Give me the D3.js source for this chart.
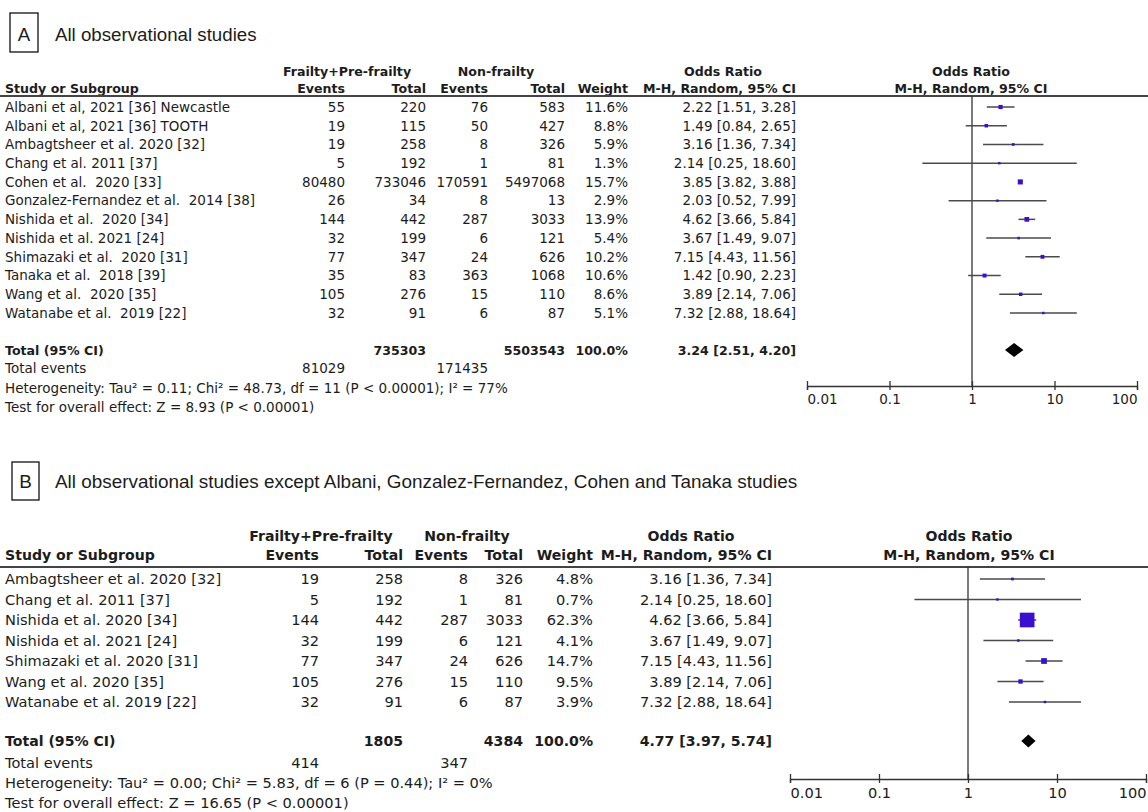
<!DOCTYPE html>
<html><head><meta charset="utf-8">
<script src="https://cdn.jsdelivr.net/npm/d3@7"></script>
<style>
body{margin:0;background:#fff;}
svg text{font-family:"DejaVu Sans",sans-serif;fill:#1c1c1c;white-space:pre;}
</style></head><body>
<svg id="c" width="1148" height="812"></svg>
<script>
// ---------- Panel A data ----------
const studiesA = ["Albani et al, 2021 [36] Newcastle","Albani et al, 2021 [36] TOOTH","Ambagtsheer et al. 2020 [32]","Chang et al. 2011 [37]","Cohen et al.  2020 [33]","Gonzalez-Fernandez et al.  2014 [38]","Nishida et al.  2020 [34]","Nishida et al. 2021 [24]","Shimazaki et al.  2020 [31]","Tanaka et al.  2018 [39]","Wang et al.  2020 [35]","Watanabe et al.  2019 [22]"];
const eventsFrailA = [55,19,19,5,80480,26,144,32,77,35,105,32];
const totalFrailA = [220,115,258,192,733046,34,442,199,347,83,276,91];
const eventsNonA = [76,50,8,1,170591,8,287,6,24,363,15,6];
const totalNonA = [583,427,326,81,5497068,13,3033,121,626,1068,110,87];
const weightA = [11.6,8.8,5.9,1.3,15.7,2.9,13.9,5.4,10.2,10.6,8.6,5.1];
const orA = [2.22,1.49,3.16,2.14,3.85,2.03,4.62,3.67,7.15,1.42,3.89,7.32];
const lowA = [1.51,0.84,1.36,0.25,3.82,0.52,3.66,1.49,4.43,0.90,2.14,2.88];
const highA = [3.28,2.65,7.34,18.60,3.88,7.99,5.84,9.07,11.56,2.23,7.06,18.64];
const totalA = {totFrail:"735303", totNon:"5503543", weight:"100.0%", or:3.24, low:2.51, high:4.20, evFrail:"81029", evNon:"171435"};
const hetA = "Heterogeneity: Tau² = 0.11; Chi² = 48.73, df = 11 (P < 0.00001); I² = 77%";
const testA = "Test for overall effect: Z = 8.93 (P < 0.00001)";
const titleA = "All observational studies";

// ---------- Panel B data ----------
const studiesB = ["Ambagtsheer et al. 2020 [32]","Chang et al. 2011 [37]","Nishida et al. 2020 [34]","Nishida et al. 2021 [24]","Shimazaki et al. 2020 [31]","Wang et al. 2020 [35]","Watanabe et al. 2019 [22]"];
const eventsFrailB = [19,5,144,32,77,105,32];
const totalFrailB = [258,192,442,199,347,276,91];
const eventsNonB = [8,1,287,6,24,15,6];
const totalNonB = [326,81,3033,121,626,110,87];
const weightB = [4.8,0.7,62.3,4.1,14.7,9.5,3.9];
const orB = [3.16,2.14,4.62,3.67,7.15,3.89,7.32];
const lowB = [1.36,0.25,3.66,1.49,4.43,2.14,2.88];
const highB = [7.34,18.60,5.84,9.07,11.56,7.06,18.64];
const totalB = {totFrail:"1805", totNon:"4384", weight:"100.0%", or:4.77, low:3.97, high:5.74, evFrail:"414", evNon:"347"};
const hetB = "Heterogeneity: Tau² = 0.00; Chi² = 5.83, df = 6 (P = 0.44); I² = 0%";
const testB = "Test for overall effect: Z = 16.65 (P < 0.00001)";
const titleB = "All observational studies except Albani, Gonzalez-Fernandez, Cohen and Tanaka studies";

const tickValues = [0.01, 0.1, 1, 10, 100];
const tickLabels = ["0.01", "0.1", "1", "10", "100"];

const svg = d3.select("#c");
const fmtOR = (o,l,h) => `${o.toFixed(2)} [${l.toFixed(2)}, ${h.toFixed(2)}]`;

function panel(d, L) {
  const g = svg.append("g");
  g.append("rect").attr("x",L.box[0]).attr("y",L.box[1]).attr("width",L.box[2]).attr("height",L.box[3])
    .attr("fill","none").attr("stroke","#111").attr("stroke-width",1.3);
  g.append("text").attr("x",L.box[0]+L.box[2]/2).attr("y",L.titleY).attr("dy","0.35em")
    .attr("text-anchor","middle").style("font-family","'Liberation Sans',Arial,sans-serif")
    .style("font-size",L.titleFs+"px").text(d.letter);
  g.append("text").attr("x",L.titleX).attr("y",L.titleY).attr("dy","0.35em")
    .style("font-family","'Liberation Sans',Arial,sans-serif").style("font-size",L.titleFs+"px").text(d.title);

  const txt = (x, y, s, anchor, bold) => g.append("text").attr("x",x).attr("y",y).attr("dy","0.36em")
      .attr("text-anchor",anchor||"end").style("font-size",(bold?L.fsB:L.fs)+"px")
      .style("font-weight",bold?"bold":"normal").text(s);

  const C = L.cols;
  txt(L.grpFrail, L.grpY, "Frailty+Pre-frailty", "middle", true);
  txt(L.grpNon, L.grpY, "Non-frailty", "middle", true);
  txt(L.grpOR, L.grpY, "Odds Ratio", "middle", true);
  txt(5, L.headY, "Study or Subgroup", "start", true);
  txt(C.evF, L.headY, "Events", "end", true);
  txt(C.totF, L.headY, "Total", "end", true);
  txt(C.evN, L.headY, "Events", "end", true);
  txt(C.totN, L.headY, "Total", "end", true);
  txt(C.wt, L.headY, "Weight", "end", true);
  txt(C.ci, L.headY, "M-H, Random, 95% CI", "end", true);
  txt(L.forestHead, L.grpY, "Odds Ratio", "middle", true);
  txt(L.forestHead, L.headY, "M-H, Random, 95% CI", "middle", true);

  g.append("line").attr("x1",0).attr("x2",1148).attr("y1",L.ruleY).attr("y2",L.ruleY)
    .attr("stroke","#444").attr("stroke-width",2);

  const n = d.studies.length;
  const y = d3.scaleLinear().domain([0, n-1]).range([L.row0, L.rowN]);
  const x = d3.scaleLog().domain([0.01, 100]).range(L.xRange);
  const size = d3.scalePow().exponent(0.65).domain([0, 100]).range([0, L.sizeK * Math.pow(100, 0.65)]);

  d.studies.forEach((s, i) => {
    const yy = y(i);
    txt(5, yy, s, "start");
    txt(C.evF, yy, d.evF[i]);
    txt(C.totF, yy, d.totF[i]);
    txt(C.evN, yy, d.evN[i]);
    txt(C.totN, yy, d.totN[i]);
    txt(C.wt, yy, d.wt[i].toFixed(1) + "%");
    txt(C.ci, yy, fmtOR(d.or[i], d.lo[i], d.hi[i]));
  });

  txt(5, L.totY, "Total (95% CI)", "start", true);
  txt(C.totF, L.totY, d.total.totFrail, "end", true);
  txt(C.totN, L.totY, d.total.totNon, "end", true);
  txt(C.wt, L.totY, d.total.weight, "end", true);
  txt(C.ci, L.totY, fmtOR(d.total.or, d.total.low, d.total.high), "end", true);
  txt(5, L.evY, "Total events", "start");
  txt(C.evF, L.evY, d.total.evFrail);
  txt(C.evN, L.evY, d.total.evNon);
  txt(5, L.hetY, d.het, "start");
  txt(5, L.testY, d.test, "start");

  g.append("line").attr("x1",x(1)).attr("x2",x(1)).attr("y1",L.ruleY).attr("y2",L.axisY)
    .attr("stroke","#333").attr("stroke-width",1.3);
  g.selectAll(".ci").data(d.studies).enter().append("line")
    .attr("x1",(s,i)=>x(d.lo[i])).attr("x2",(s,i)=>x(d.hi[i]))
    .attr("y1",(s,i)=>y(i)).attr("y2",(s,i)=>y(i))
    .attr("stroke","#4a4a4a").attr("stroke-width",1.5);
  const sz = i => Math.max(2.4, size(d.wt[i]));
  g.selectAll(".sq").data(d.studies).enter().append("rect")
    .attr("x",(s,i)=>x(d.or[i]) - sz(i)/2)
    .attr("y",(s,i)=>y(i) - sz(i)/2)
    .attr("width",(s,i)=>sz(i)).attr("height",(s,i)=>sz(i))
    .attr("fill","#3a0fd0");
  const dy = L.diaH/2;
  g.append("path").attr("d", `M${x(d.total.low)},${L.totY} L${x(d.total.or)},${L.totY-dy} L${x(d.total.high)},${L.totY} L${x(d.total.or)},${L.totY+dy} Z`)
    .attr("fill","#000");

  const ax = g.append("g").attr("transform",`translate(0,${L.axisY})`)
    .call(d3.axisBottom(x).tickValues(tickValues).tickFormat((v,i)=>tickLabels[i]).tickSizeOuter(0).tickSize(4).tickPadding(6));
  ax.select(".domain").attr("stroke","#333").attr("stroke-width",1.3);
  ax.selectAll(".tick line").attr("y1",-5).attr("y2",4).attr("stroke","#333").attr("stroke-width",1.3);
  ax.selectAll(".tick text").style("font-family","'DejaVu Sans',sans-serif").style("font-size",L.fs+"px")
    .attr("fill","#1c1c1c").attr("dy","0.6em")
    .attr("text-anchor",(v,i)=> i===0 ? "start" : (i===tickValues.length-1 ? "end" : "middle"));
}

panel({letter:"A", title:titleA, studies:studiesA, evF:eventsFrailA, totF:totalFrailA, evN:eventsNonA, totN:totalNonA,
       wt:weightA, or:orA, lo:lowA, hi:highA, total:totalA, het:hetA, test:testA},
  {box:[10,13,28,39], titleX:55, titleY:34, titleFs:18.7, fs:13.5, fsB:12.6,
   grpY:71, headY:88, ruleY:96, row0:107, rowN:313, totY:350, evY:368, hetY:388, testY:407,
   grpFrail:347, grpNon:496, grpOR:723, forestHead:971,
   cols:{evF:345, totF:426, evN:488, totN:565, wt:628, ci:796},
   xRange:[807,1137], axisY:386, sizeK:0.85, diaH:14});

panel({letter:"B", title:titleB, studies:studiesB, evF:eventsFrailB, totF:totalFrailB, evN:eventsNonB, totN:totalNonB,
       wt:weightB, or:orB, lo:lowB, hi:highB, total:totalB, het:hetB, test:testB},
  {box:[12,462,27,38], titleX:55, titleY:481, titleFs:18.9, fs:14.6, fsB:14.1,
   grpY:536, headY:555, ruleY:567, row0:579, rowN:702, totY:741, evY:763, hetY:783, testY:803,
   grpFrail:321, grpNon:467, grpOR:691, forestHead:969,
   cols:{evF:319, totF:403, evN:468, totN:523, wt:593, ci:772},
   xRange:[790,1146], axisY:779, sizeK:1.0, diaH:13});
</script>
</body></html>
